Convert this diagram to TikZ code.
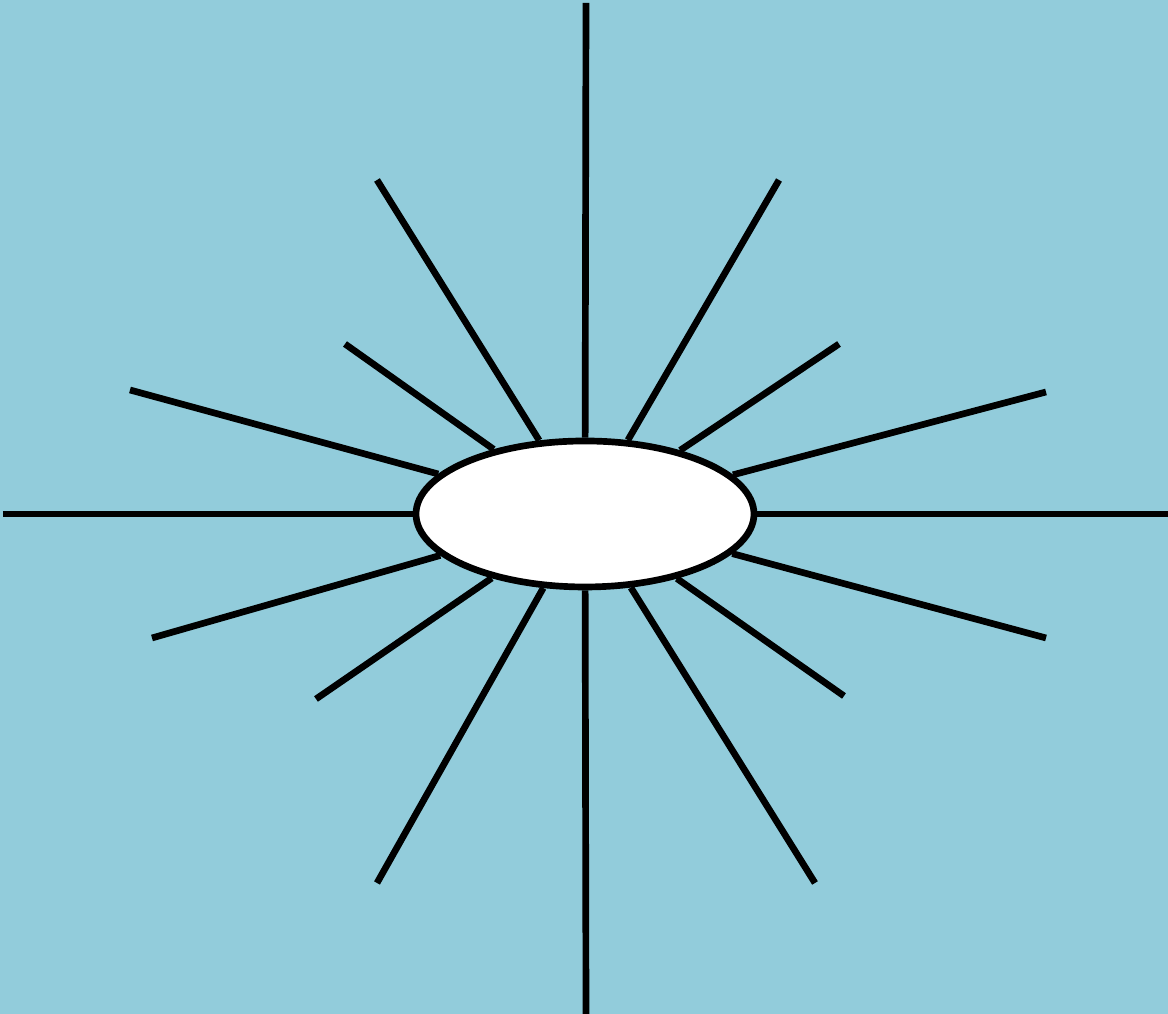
\documentclass[tikz,border=0pt]{standalone}
\usetikzlibrary{shapes.geometric}
\definecolor{skyblue}{RGB}{146,204,219}
\begin{document}
\begin{tikzpicture}
  [ray/.style={draw=black,line width=1.9pt},
   sunbody/.style={ellipse,draw=black,fill=white,line width=1.9pt,
     minimum width=3.38cm,minimum height=1.46cm,inner sep=0pt}]
  % Fondo
  \fill[skyblue] (0,0) rectangle (11.68,10.14);
  \useasboundingbox (0,0) rectangle (11.68,10.14);

  % Elipse central
  \node[sunbody] (sun) at (5.85,5.00) {};

  % Extremos exteriores de los rayos
  \foreach \x/\y [count=\i] in {5.86/10.11, 5.86/0, 0.03/5.00, 11.68/5.00,
      3.77/8.34, 7.79/8.34, 3.45/6.70, 8.39/6.70, 1.30/6.24, 10.46/6.22,
      1.52/3.76, 10.46/3.76, 3.16/3.15, 8.44/3.18, 3.77/1.31, 8.15/1.31}
  {
    \coordinate (r\i) at (\x,\y);
    \draw[ray] (r\i) -- (sun);
  }
\end{tikzpicture}
\end{document}
